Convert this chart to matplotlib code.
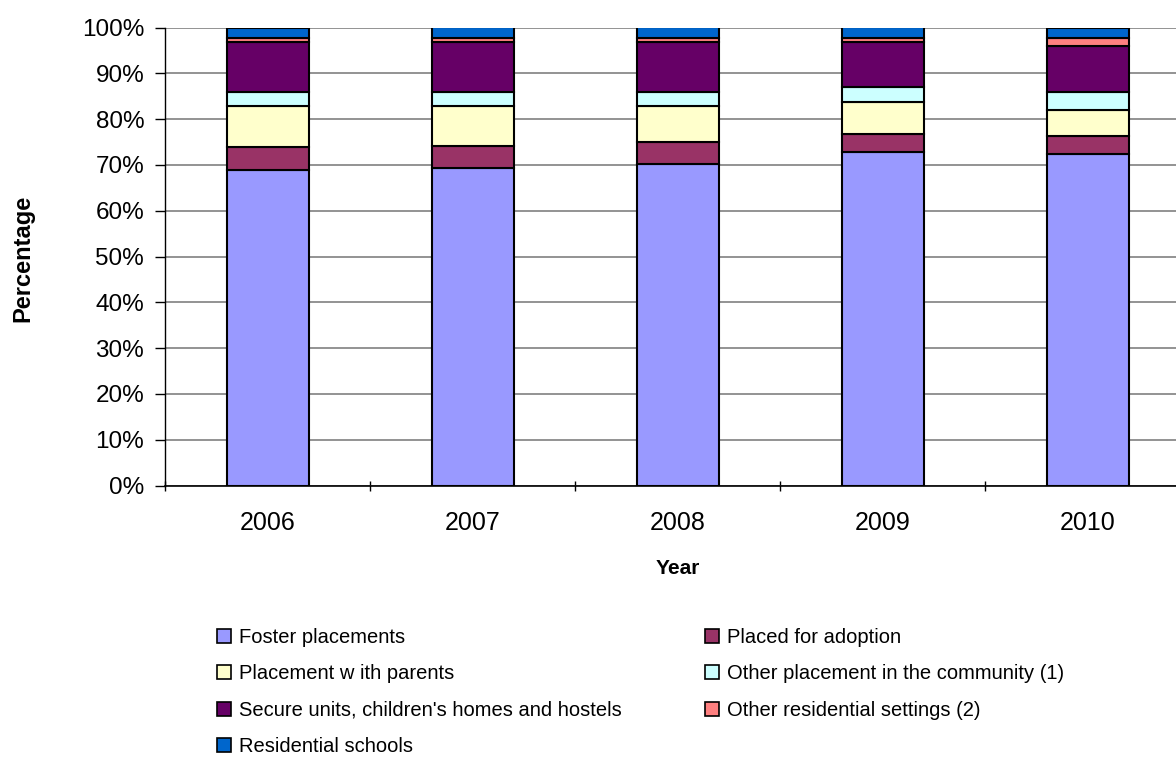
import matplotlib
matplotlib.use("Agg")
import matplotlib.pyplot as plt
from matplotlib.patches import Patch
from matplotlib.ticker import FixedLocator, PercentFormatter
import numpy as np

plt.rcParams['font.family'] = ['Liberation Sans', 'DejaVu Sans']

years = ["2006", "2007", "2008", "2009", "2010"]
series_names = [
    "Foster placements",
    "Placed for adoption",
    "Placement w ith parents",
    "Other placement in the community (1)",
    "Secure units, children's homes and hostels",
    "Other residential settings (2)",
    "Residential schools",
]
foster = [68.9, 69.4, 70.2, 72.8, 72.4]
adoption = [4.9, 4.7, 4.8, 3.9, 4.0]
parents = [9.1, 8.8, 7.9, 7.1, 5.6]
community = [3.1, 3.1, 3.1, 3.1, 4.0]
secure = [10.8, 10.8, 10.8, 9.9, 10.0]
other_res = [0.9, 0.8, 0.8, 0.8, 1.7]
schools = [2.3, 2.4, 2.4, 2.4, 2.3]
series = [foster, adoption, parents, community, secure, other_res, schools]
colors = ["#9999FF", "#993366", "#FFFFCC", "#CCFFFF", "#660066", "#FF8080", "#0066CC"]

fig = plt.figure(figsize=(11.76, 7.58), dpi=100)
ax = fig.add_axes([165/1176, (758-485.5)/758, 1025/1176, 458/758])

x = np.arange(len(years))
bottom = np.zeros(len(years))
for vals, col, name in zip(series, colors, series_names):
    v = np.array(vals)
    ax.bar(x, v, 0.4, bottom=bottom, color=col, edgecolor="black", linewidth=1.5, zorder=3, label=name)
    bottom += v

ax.set_xlim(-0.5, len(years) - 0.5)
ax.set_ylim(0, 100)
ax.yaxis.set_major_locator(FixedLocator(np.arange(0, 101, 10)))
ax.yaxis.set_major_formatter(PercentFormatter(decimals=0))
ax.grid(axis='y', color='#808080', linewidth=1.2, zorder=0)
ax.set_axisbelow(True)

ax.set_xticks(x)
ax.set_xticklabels(years)
ax.set_xticks(np.arange(-0.5, len(years) - 0.5, 1), minor=True)
ax.tick_params(axis='x', which='major', length=0, pad=18, labelsize=18)
ax.tick_params(axis='x', which='minor', length=7, width=1, color='black', direction='inout')
ax.tick_params(axis='y', length=7, width=1, color='black', labelsize=17.5, pad=8)

for s in ['top', 'right']:
    ax.spines[s].set_visible(False)
ax.spines['left'].set_color('black')
ax.spines['bottom'].set_color('black')
ax.spines['left'].set_linewidth(1)
ax.spines['bottom'].set_linewidth(1.2)

fig.text(678/1176, 1 - 568/758, "Year", ha='center', va='center', fontsize=15, fontweight='bold')
fig.text(23/1176, 1 - 258/758, "Percentage", ha='center', va='center', fontsize=17, fontweight='bold', rotation=90)

handles = [Patch(facecolor=c, edgecolor='black', linewidth=1.2) for c in colors]
order = [0, 2, 4, 6, 1, 3, 5]
fig.legend([handles[i] for i in order], [series_names[i] for i in order],
           loc='upper left', bbox_to_anchor=(199/1176, 1 - 610/758), ncol=2,
           frameon=False, fontsize=14.5, handlelength=0.7, handleheight=0.7,
           handletextpad=0.4, labelspacing=0.86, columnspacing=4.1)

fig.savefig("out.png", dpi=100)
